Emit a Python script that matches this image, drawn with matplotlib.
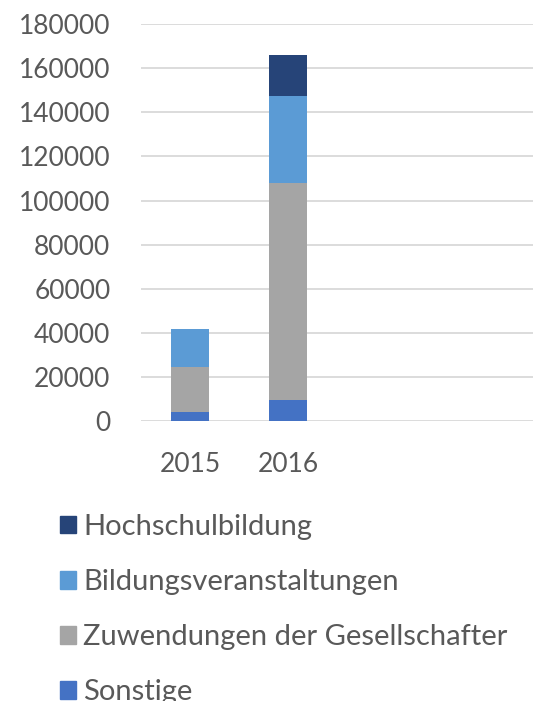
import matplotlib
matplotlib.use("Agg")
import matplotlib.pyplot as plt
from matplotlib.patches import Patch

# Data
years = ["2015", "2016", "", ""]
sonstige = [4200, 9500, 0, 0]
zuwendungen = [20150, 98300, 0, 0]
bildungsveranstaltungen = [17500, 39600, 0, 0]
hochschulbildung = [0, 18600, 0, 0]
yticks = [0, 20000, 40000, 60000, 80000, 100000, 120000, 140000, 160000, 180000]

plt.rcParams['font.family'] = ['Lato', 'DejaVu Sans']
text_color = '#595959'

fig = plt.figure(figsize=(5.4, 7.01), dpi=100)
ax = fig.add_axes([0.261, 0.3994, 0.726, 0.5662])

x = list(range(len(years)))
width = 0.395
colors = ['#4472C4', '#A5A5A5', '#5B9BD5', '#264478']
series = [sonstige, zuwendungen, bildungsveranstaltungen, hochschulbildung]
names = ['Sonstige', 'Zuwendungen der Gesellschafter',
         'Bildungsveranstaltungen', 'Hochschulbildung']

bottom = [0] * len(years)
for vals, col in zip(series, colors):
    ax.bar(x, vals, width, bottom=bottom, color=col, zorder=3)
    bottom = [b + v for b, v in zip(bottom, vals)]

# Axes formatting
ax.set_xlim(-0.5, len(years) - 0.5)
ax.set_ylim(0, 180000)
ax.set_yticks(yticks)
ax.set_yticklabels([str(t) for t in yticks])
ax.set_xticks(x)
ax.set_xticklabels(years)
ax.grid(axis='y', color='#D9D9D9', linewidth=1.3, zorder=0)
for s in ['top', 'right', 'left', 'bottom']:
    ax.spines[s].set_visible(False)
ax.tick_params(axis='both', length=0, labelsize=19, colors=text_color)
ax.tick_params(axis='y', pad=22)
ax.tick_params(axis='x', pad=22)

# Legend (top series first)
handles = [Patch(color=c) for c in colors][::-1]
leg = fig.legend(handles, names[::-1], loc='upper left',
                 bbox_to_anchor=(0.111, 0.2668), frameon=False,
                 fontsize=21, handlelength=0.55, handleheight=0.55,
                 handletextpad=0.25, labelspacing=1.0, borderaxespad=0,
                 borderpad=0)
for t in leg.get_texts():
    t.set_color(text_color)

fig.savefig("out.png", dpi=100)
